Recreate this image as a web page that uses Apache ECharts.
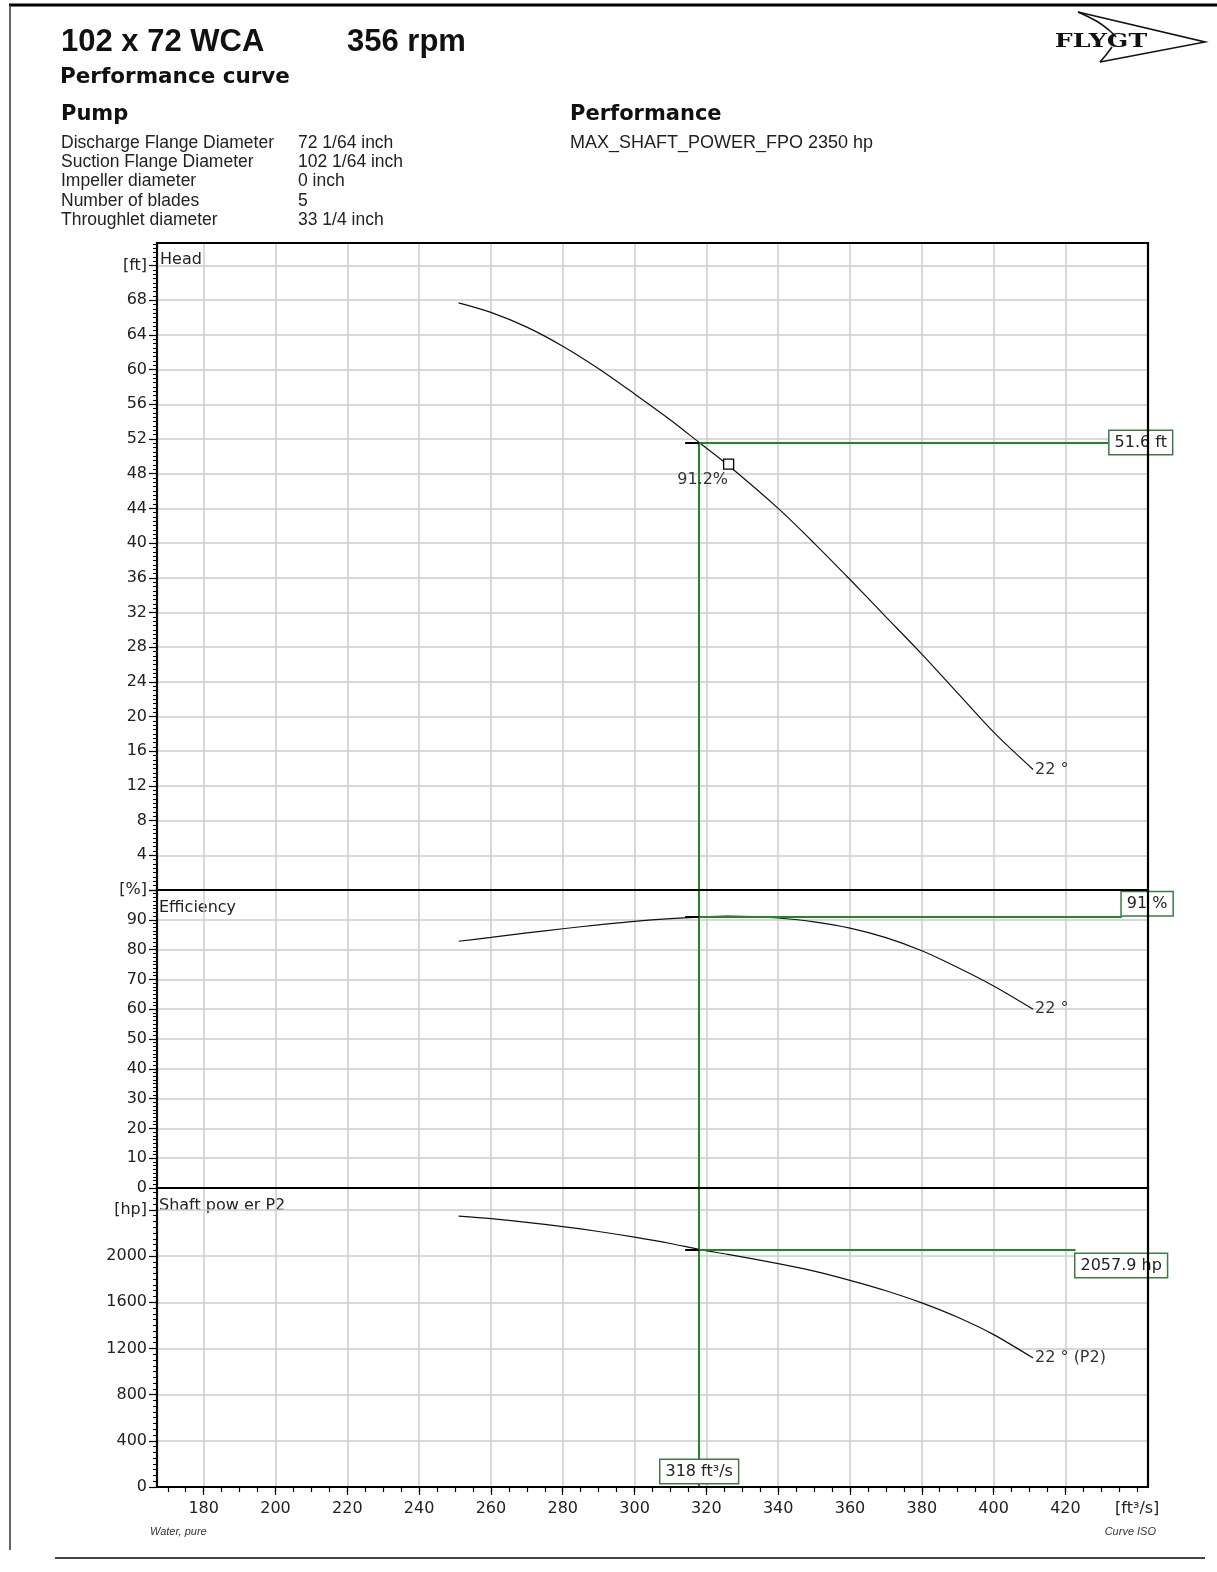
<!DOCTYPE html>
<html><head><meta charset="utf-8">
<script src="https://cdn.jsdelivr.net/npm/echarts@6/dist/echarts.min.js"></script>
<style>html,body{margin:0;padding:0;background:#fff}#c{width:1217px;height:1572px}</style>
</head><body><div id="c"></div><script>
// ---- data ----
const flow       = [251, 260, 270, 280, 290, 300, 310, 318, 326, 340, 350, 360, 370, 380, 390, 400, 411];
const headFt     = [67.7, 66.6, 64.9, 62.7, 60.1, 57.2, 54.2, 51.6, 49.0, 44.0, 40.0, 35.8, 31.5, 27.2, 22.7, 18.2, 13.9];
const effPct     = [82.8, 84.1, 85.6, 87.0, 88.3, 89.5, 90.4, 90.9, 91.2, 90.6, 89.3, 87.2, 84.0, 79.6, 74.0, 67.8, 60.0];
const powerHp    = [2346, 2324, 2293, 2256, 2213, 2164, 2109, 2058, 2015, 1935, 1870, 1790, 1700, 1595, 1470, 1320, 1117];
const curveName  = '22 °';
const dutyFlow = 318, dutyHead = 51.6, dutyEff = 91, dutyPower = 2057.9;
const bepFlow = 326.2, bepHead = 49.1, bepLabel = '91.2%';
const xLabelValues = [180, 200, 220, 240, 260, 280, 300, 320, 340, 360, 380, 400, 420, 440];
const xGridValues  = [180, 200, 220, 240, 260, 280, 300, 320, 340, 360, 380, 400, 420];
const xMinorValues = [170,175,180,185,190,195,200,205,210,215,220,225,230,235,240,245,250,255,260,265,270,275,280,285,290,295,300,305,310,315,320,325,330,335,340,345,350,355,360,365,370,375,380,385,390,395,400,405,410,415,420,425,430,435,440];
const headTicks  = [0,4,8,12,16,20,24,28,32,36,40,44,48,52,56,60,64,68,72];
const headLabels = [4,8,12,16,20,24,28,32,36,40,44,48,52,56,60,64,68,72];
const effTicks   = [0,10,20,30,40,50,60,70,80,90,100];
const powerTicks = [0,400,800,1200,1600,2000,2400];
const pumpRows = [
  ['Discharge Flange Diameter', '72 1/64 inch'],
  ['Suction Flange Diameter', '102 1/64 inch'],
  ['Impeller diameter', '0 inch'],
  ['Number of blades', '5'],
  ['Throughlet diameter', '33 1/4 inch']
];
// ---- layout/style ----
const X_MIN = 167, X_MAX = 443;
const HEAD_MAX = 74.6, EFF_MAX = 100, POWER_MAX = 2590;
const headBoxX = 432.3, effBoxX = 435.7, powerBoxX = 422.8, crossX = 314.1;
const GREEN = '#1f8a1f', BOXB = '#3f7a46', GRID = '#cdcdcd', TXT = '#222';
const FONT = 'DejaVu Sans';
const pts = arr => flow.map((q, i) => [q, arr[i]]);

const gridBase = {left: 157, width: 991, show: true, z: 10, borderColor: '#000', borderWidth: 2.2,
  backgroundColor: 'transparent', outerBoundsMode: 'none', containLabel: false};
const boxLabel = (txt, pos, off) => ({
  show: true, formatter: txt, position: pos, distance: 0, offset: off,
  color: TXT, fontFamily: FONT, fontSize: 16, backgroundColor: '#fff',
  borderColor: BOXB, borderWidth: 1.5, padding: [4, 5, 3, 5]
});
const hiddenX = g => ({type: 'value', gridIndex: g, min: X_MIN, max: X_MAX,
  axisLine: {show: false}, axisTick: {show: false, customValues: xGridValues}, axisLabel: {show: false},
  splitLine: {show: true, lineStyle: {color: GRID, width: 1.5}}});
const yAx = (g, max, interval, ticks, labels, fmt) => ({
  type: 'value', gridIndex: g, min: 0, max: max, interval: interval,
  axisLine: {show: true, lineStyle: {color: '#000', width: 2}},
  axisTick: {show: true, customValues: ticks, length: 8, lineStyle: {color: '#000', width: 1.2}},
  minorTick: {show: true, splitNumber: 8, length: 4, lineStyle: {color: '#000', width: 1}},
  axisLabel: {customValues: labels, formatter: fmt, margin: 10, color: TXT, fontFamily: FONT, fontSize: 16},
  splitLine: {show: true, lineStyle: {color: GRID, width: 1.5}}
});
const lineSeries = (x, y, data, endTxt) => ({
  type: 'line', xAxisIndex: x, yAxisIndex: y, data: data, smooth: 0.3, symbol: 'none',
  lineStyle: {color: '#111', width: 1.2}, clip: false, z: 3,
  endLabel: {show: true, formatter: endTxt, color: '#333', fontFamily: FONT, fontSize: 16, distance: 2}
});
const mlStyle = {symbol: ['none', 'none'], silent: true, label: {show: false}, lineStyle: {color: GREEN, width: 2, type: 'solid'}};

const headS = lineSeries(0, 0, pts(headFt), curveName);
headS.markLine = Object.assign({}, mlStyle, {data: [
  [{coord: [dutyFlow, dutyHead]}, {coord: [headBoxX, dutyHead]}],
  [{coord: [dutyFlow, dutyHead]}, {coord: [dutyFlow, 0]}],
  [{coord: [crossX, dutyHead], lineStyle: {color: '#000', width: 2}}, {coord: [dutyFlow, dutyHead]}]
]});
headS.markPoint = {silent: true, data: [
  {coord: [headBoxX, dutyHead], symbol: 'rect', symbolSize: 0, label: boxLabel(dutyHead + ' ft', 'right', [0, 0])},
  {coord: [bepFlow, bepHead], symbol: 'rect', symbolSize: 10,
   itemStyle: {color: '#fff', borderColor: '#000', borderWidth: 1.3},
   label: {show: true, formatter: bepLabel, position: 'bottom', distance: 1, offset: [-26, 1], color: '#333', fontFamily: FONT, fontSize: 16}}
]};

const effS = lineSeries(1, 1, pts(effPct), curveName);
effS.markLine = Object.assign({}, mlStyle, {data: [
  [{coord: [dutyFlow, dutyEff]}, {coord: [effBoxX, dutyEff]}],
  [{coord: [dutyFlow, EFF_MAX]}, {coord: [dutyFlow, 0]}],
  [{coord: [crossX, dutyEff], lineStyle: {color: '#000', width: 2}}, {coord: [dutyFlow, dutyEff]}]
]});
effS.markPoint = {silent: true, data: [
  {coord: [effBoxX, dutyEff], symbol: 'rect', symbolSize: 0, label: boxLabel(dutyEff + ' %', 'right', [0, -13])}
]};

const powS = lineSeries(2, 2, pts(powerHp), curveName + ' (P2)');
powS.markLine = Object.assign({}, mlStyle, {data: [
  [{coord: [dutyFlow, dutyPower]}, {coord: [powerBoxX, dutyPower]}],
  [{coord: [dutyFlow, POWER_MAX]}, {coord: [dutyFlow, 0]}],
  [{coord: [crossX, dutyPower], lineStyle: {color: '#000', width: 2}}, {coord: [dutyFlow, dutyPower]}]
]});
powS.markPoint = {silent: true, data: [
  {coord: [powerBoxX, dutyPower], symbol: 'rect', symbolSize: 0, label: boxLabel(dutyPower + ' hp', 'right', [0, 16])},
  {coord: [dutyFlow, 0], symbol: 'rect', symbolSize: 0, label: boxLabel(dutyFlow + ' ft³/s', 'top', [0, -4])}
]};

const txt = (x, y, s, o) => ({type: 'text', x: x, y: y, silent: true, style: Object.assign({
  text: s, fill: TXT, fontFamily: 'Liberation Sans', fontSize: 17.5, align: 'left', verticalAlign: 'middle'}, o || {})});
const graphics = [
  {type: 'line', silent: true, shape: {x1: 9, y1: 5, x2: 1217, y2: 5}, style: {stroke: '#000', lineWidth: 3}},
  {type: 'line', silent: true, shape: {x1: 10, y1: 5, x2: 10, y2: 1550}, style: {stroke: '#333', lineWidth: 1.5}},
  {type: 'line', silent: true, shape: {x1: 55, y1: 1558, x2: 1205, y2: 1558}, style: {stroke: '#444', lineWidth: 2}},
  txt(61, 42, '102 x 72 WCA', {fontSize: 31, fontWeight: 'bold', fill: '#111'}),
  txt(347, 42, '356 rpm', {fontSize: 31, fontWeight: 'bold', fill: '#111'}),
  txt(60, 77, 'Performance curve', {fontFamily: 'DejaVu Sans', fontSize: 21.5, fontWeight: 'bold', fill: '#111'}),
  txt(61, 115, 'Pump', {fontFamily: 'DejaVu Sans', fontSize: 21, fontWeight: 'bold', fill: '#111'}),
  txt(570, 115, 'Performance', {fontFamily: 'DejaVu Sans', fontSize: 21, fontWeight: 'bold', fill: '#111'}),
  txt(570, 143, 'MAX_SHAFT_POWER_FPO 2350 hp', {fontSize: 18}),
  txt(160, 260, 'Head', {fontFamily: FONT, fontSize: 16}),
  txt(159, 908, 'Efficiency', {fontFamily: FONT, fontSize: 16}),
  txt(159, 1206, 'Shaft pow er P2', {fontFamily: FONT, fontSize: 16}),
  txt(150, 1532, 'Water, pure', {fontSize: 11, fontStyle: 'italic', fill: '#333'}),
  txt(1156, 1532, 'Curve ISO', {fontSize: 11, fontStyle: 'italic', fill: '#333', align: 'right'}),
  {type: 'polyline', silent: true, shape: {points: [[1078, 12], [1205, 42], [1100, 62]]}, style: {stroke: '#111', lineWidth: 1.6, fill: null}},
  {type: 'polyline', silent: true, shape: {points: [[1078, 12], [1098, 22], [1110, 31], [1116, 37]], smooth: 0.4}, style: {stroke: '#111', lineWidth: 1.6, fill: null}},
  {type: 'polyline', silent: true, shape: {points: [[1112, 47], [1106, 55], [1100, 62]]}, style: {stroke: '#111', lineWidth: 1.6, fill: null}},
  {type: 'text', x: 1101, y: 42, scaleX: 1.4, silent: true, style: {text: 'FLYGT', fill: '#111', fontFamily: 'DejaVu Serif', fontWeight: 'bold', fontSize: 18, align: 'center', verticalAlign: 'middle'}}
];
pumpRows.forEach((r, i) => {
  const y = 143 + i * 19.3;
  graphics.push(txt(61, y, r[0]));
  graphics.push(txt(298, y, r[1]));
});

const chart = echarts.init(document.getElementById('c'), null, {renderer: 'canvas'});
chart.setOption({
  animation: false,
  backgroundColor: '#fff',
  grid: [
    Object.assign({top: 243, height: 647}, gridBase),
    Object.assign({top: 890, height: 298}, gridBase),
    Object.assign({top: 1188, height: 299}, gridBase)
  ],
  xAxis: [
    hiddenX(0), hiddenX(1),
    {type: 'value', gridIndex: 2, min: X_MIN, max: X_MAX, position: 'bottom',
     axisLine: {show: true, lineStyle: {color: '#000', width: 2}},
     axisTick: {show: true, customValues: xMinorValues, length: 5, lineStyle: {color: '#000', width: 1.2}},
     axisLabel: {customValues: xLabelValues, formatter: v => v === 440 ? '[ft³/s]' : String(v), margin: 14, color: TXT, fontFamily: FONT, fontSize: 16},
     splitLine: {show: false}},
    {type: 'value', gridIndex: 2, min: X_MIN, max: X_MAX, position: 'bottom',
     axisLine: {show: false},
     axisTick: {show: true, customValues: xGridValues, length: 8, lineStyle: {color: '#000', width: 1.2}},
     axisLabel: {show: false},
     splitLine: {show: true, lineStyle: {color: GRID, width: 1.5}}}
  ],
  yAxis: [
    yAx(0, HEAD_MAX, 4, headTicks, headLabels, v => v === 72 ? '[ft]' : String(v)),
    yAx(1, EFF_MAX, 10, effTicks, effTicks, v => v === 100 ? '[%]' : String(v)),
    yAx(2, POWER_MAX, 400, powerTicks, powerTicks, v => v === 2400 ? '[hp]' : String(v))
  ],
  series: [headS, effS, powS],
  graphic: graphics
});
</script></body></html>
